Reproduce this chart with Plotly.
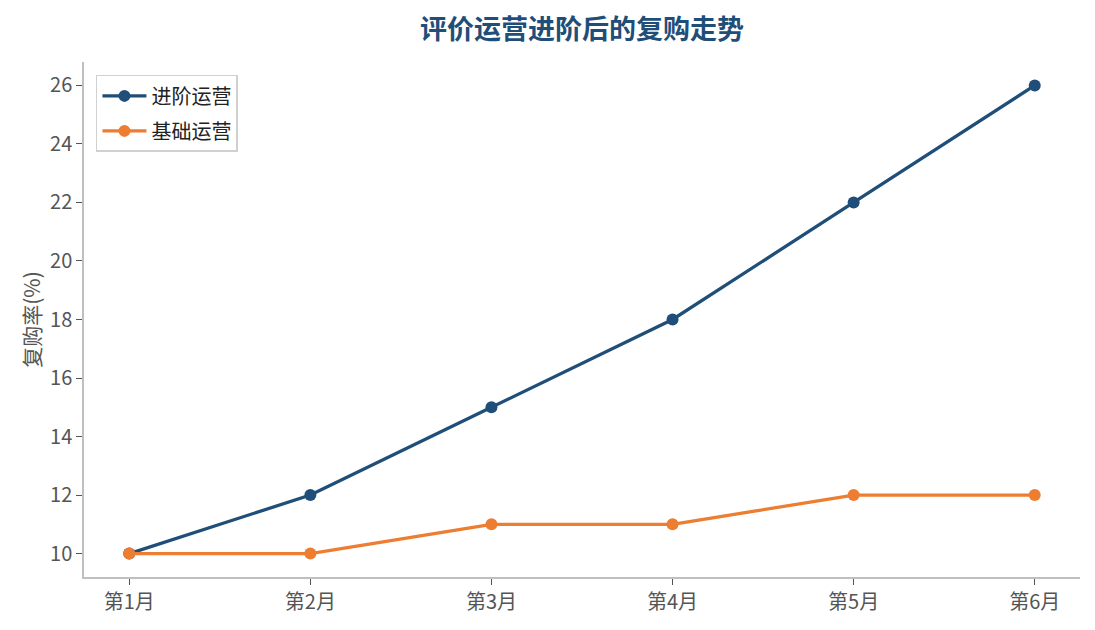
import plotly.graph_objects as go

months = ["第1月", "第2月", "第3月", "第4月", "第5月", "第6月"]
advanced = [10, 12, 15, 18, 22, 26]
basic = [10, 10, 11, 11, 12, 12]
y_ticks = [10, 12, 14, 16, 18, 20, 22, 24, 26]

font = "Noto Sans CJK SC"
blue = "#1f4e79"
orange = "#ed7d31"

fig = go.Figure()
fig.add_trace(go.Scatter(
    x=list(range(len(months))), y=advanced, name="进阶运营", legendgroup="a",
    mode="lines+markers",
    line=dict(color=blue, width=3.3),
    marker=dict(size=12, color=blue),
))
fig.add_trace(go.Scatter(
    x=list(range(len(months))), y=basic, name="基础运营", legendgroup="b",
    mode="lines+markers",
    line=dict(color=orange, width=3.3),
    marker=dict(size=12, color=orange),
))

# page body adds an 8px margin, so the figure is shrunk by that much
fig.update_layout(
    width=1087, height=622,
    margin=dict(l=76, r=15, t=54, b=53),
    plot_bgcolor="white", paper_bgcolor="white",
    font=dict(family=font, size=20, color="#555555"),
    title=dict(text="<b>评价运营进阶后的复购走势</b>", x=0.5, xref="paper", xanchor="center",
               y=0.965, yanchor="middle",
               font=dict(family=font, size=27, color=blue)),
    showlegend=True,
    legend=dict(x=0.012, y=0.975, xanchor="left", yanchor="top",
                bgcolor="white", bordercolor="#d0d0d0", borderwidth=1.5,
                font=dict(family=font, size=20, color="#222222"),
                itemwidth=44, tracegroupgap=6),
)
fig.update_xaxes(
    range=[-0.25, 5.25],
    tickmode="array", tickvals=list(range(len(months))), ticktext=months,
    showgrid=False, zeroline=False,
    showline=True, linecolor="#bfbfbf", linewidth=1.5,
    ticks="outside", ticklen=6, tickcolor="#555555", tickwidth=1.2,
)
fig.update_yaxes(
    range=[9.2, 26.8],
    tickmode="array", tickvals=y_ticks,
    title=dict(text="复购率(%)", font=dict(family=font, size=21, color="#555555"), standoff=4),
    showgrid=False, zeroline=False,
    showline=True, linecolor="#bfbfbf", linewidth=1.5,
    ticks="outside", ticklen=6, tickcolor="#555555", tickwidth=1.2,
)

fig.write_html("out.html")
